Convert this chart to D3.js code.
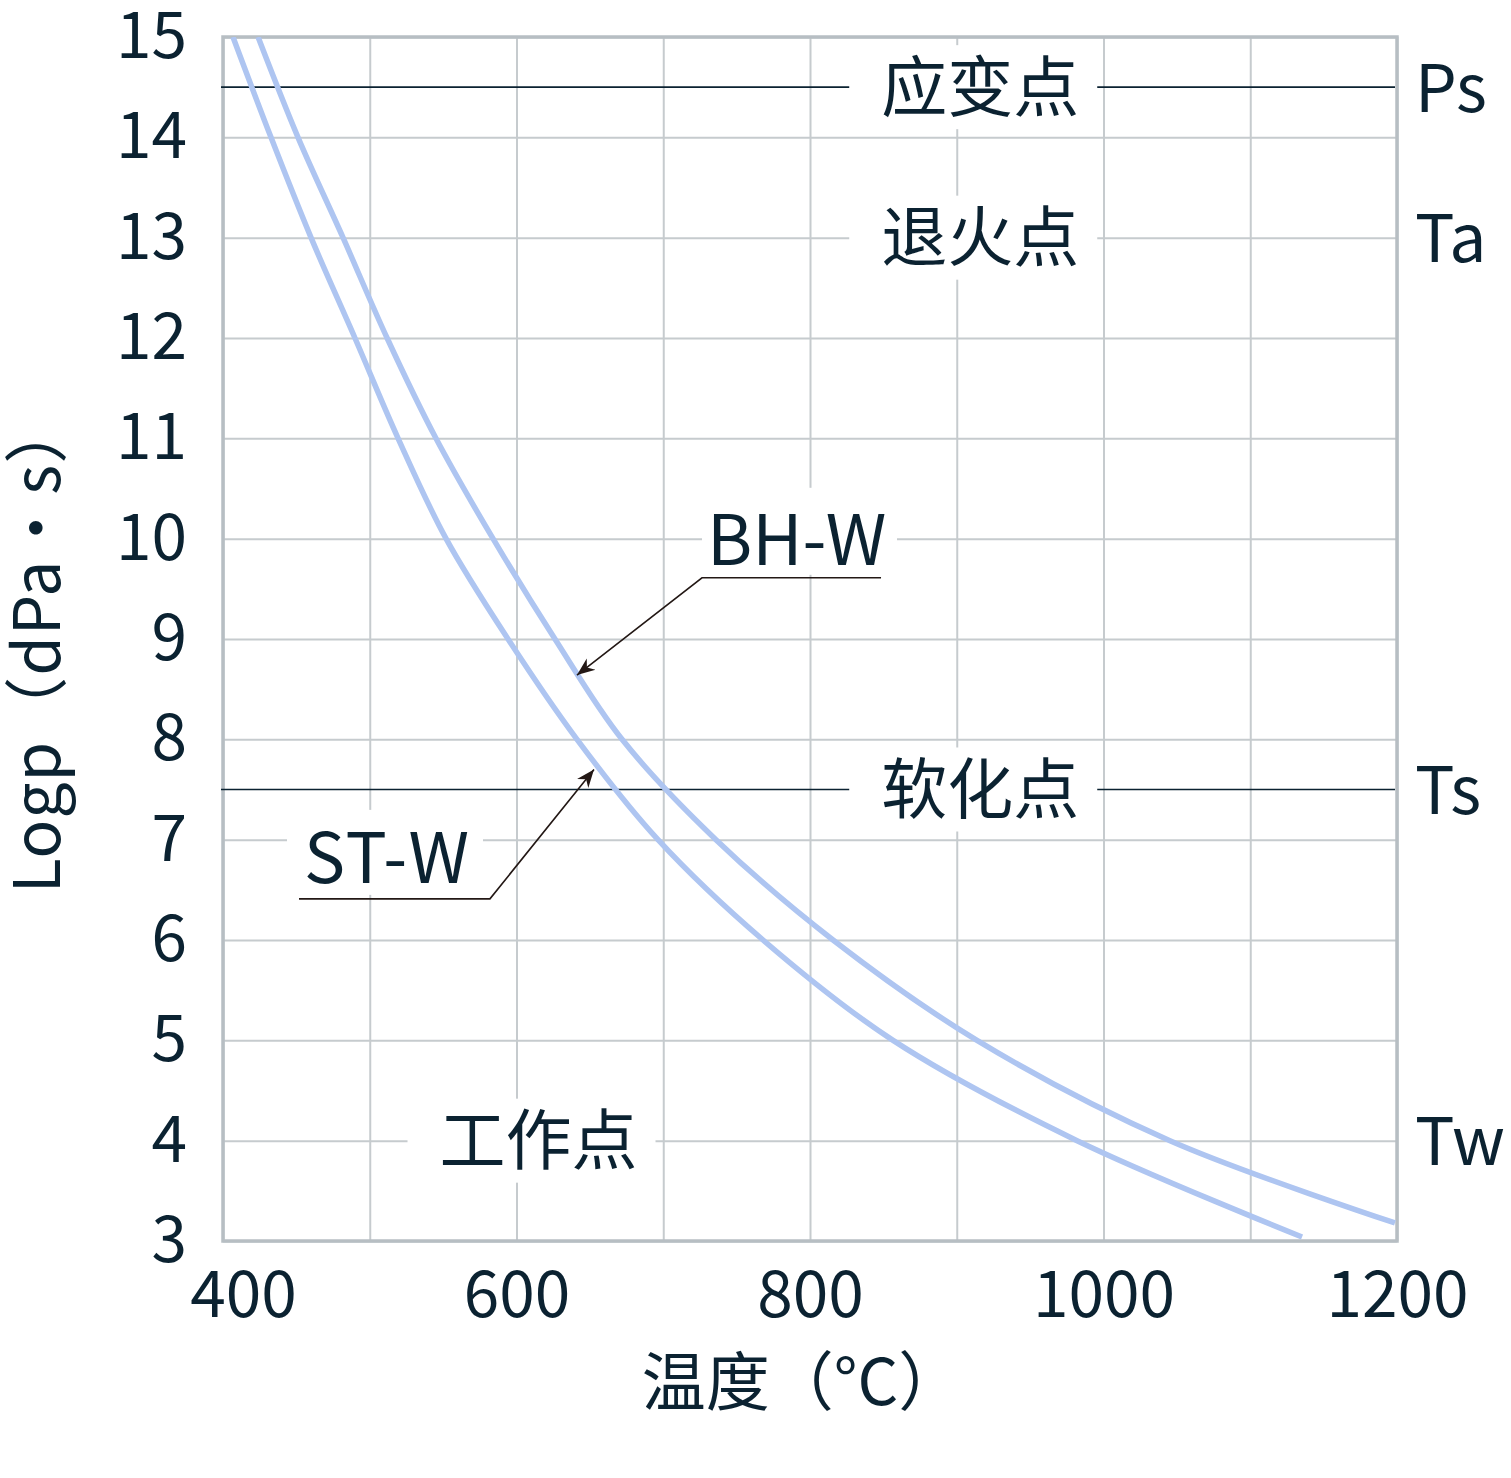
<!DOCTYPE html>
<html>
<head>
<meta charset="utf-8">
<script src="https://cdn.jsdelivr.net/npm/d3@7"></script>
<style>
  body { margin: 0; background: #fff; }
  svg text { font-family: "Noto Sans CJK SC", "Noto Sans", sans-serif; fill: #0b2231; }
</style>
</head>
<body>
<div id="graf"></div>
<script>
// datos
const tempTicks = [400, 600, 800, 1000, 1200];
const logTicks = [3, 4, 5, 6, 7, 8, 9, 10, 11, 12, 13, 14, 15];

const stwTemp = [406.8, 432.7, 460, 489.9, 519.3, 552, 594.2, 641.2, 696.4, 768, 856.6, 982, 1135.3];
const stwLog = [15, 14, 13, 12, 11, 10, 9, 8, 7, 6, 5, 4, 3.04];

const bhwTemp = [423.9, 451.1, 481.8, 511.8, 545.1, 584, 626.2, 671.9, 735.9, 815.7, 913.8, 1045.3, 1198.6];
const bhwLog = [15, 14, 13, 12, 11, 10, 9, 8, 7, 6, 5, 4, 3.18];

// puntos caracteristicos
const puntoNombre = ["应变点", "退火点", "软化点", "工作点"];
const puntoLog = [14.5, 13, 7.5, 4];
const puntoTemp = [916, 916, 916, 615];
const puntoSigla = ["Ps", "Ta", "Ts", "Tw"];
const lineasRef = [14.5, 7.5];

// flechas de las etiquetas [temp, log]
const bhwFlecha = [[641.2, 8.64], [726.4, 9.61], [848.4, 9.61]];
const stwFlecha = [[451.8, 6.41], [581.9, 6.41], [652.8, 7.70]];

const margins = { top: 37, right: 114, bottom: 237, left: 223 };
const totalW = 1511, totalH = 1478;
const w = totalW - margins.left - margins.right;
const h = totalH - margins.top - margins.bottom;

const svg = d3.select("#graf").append("svg")
  .attr("width", totalW)
  .attr("height", totalH);

const g = svg.append("g")
  .attr("transform", `translate(${margins.left}, ${margins.top})`);

const x = d3.scaleLinear().domain([400, 1200]).range([0, w]);
const y = d3.scaleLinear().domain([3, 15]).range([h, 0]);

// rejilla
const gridColor = "#c6cbce";
g.append("g")
  .attr("transform", `translate(0,${h})`)
  .call(d3.axisBottom(x).tickValues(d3.range(400, 1201, 100)).tickSize(-h).tickFormat(""))
  .call(a => a.select(".domain").remove())
  .call(a => a.selectAll("line").attr("stroke", gridColor).attr("stroke-width", 2));

g.append("g")
  .call(d3.axisLeft(y).tickValues(logTicks).tickSize(-w).tickFormat(""))
  .call(a => a.select(".domain").remove())
  .call(a => a.selectAll("line").attr("stroke", gridColor).attr("stroke-width", 2));

// borde
g.append("rect")
  .attr("width", w).attr("height", h)
  .attr("fill", "none")
  .attr("stroke", "#b7bec3")
  .attr("stroke-width", 3.5);

// lineas de referencia
g.selectAll(".ref").data(lineasRef).enter().append("line")
  .attr("x1", -2).attr("x2", w - 2)
  .attr("y1", d => y(d)).attr("y2", d => y(d))
  .attr("stroke", "#0b2231")
  .attr("stroke-width", 1.6);

// cajas blancas detras de los textos
g.selectAll(".caja").data(puntoNombre).enter().append("rect")
  .attr("x", (d, i) => x(puntoTemp[i]) - 131)
  .attr("y", (d, i) => y(puntoLog[i]) - 42)
  .attr("width", 248).attr("height", 84)
  .attr("fill", "#fff");

const bx = x(bhwFlecha[1][0]), by = y(bhwFlecha[1][1]);
g.append("rect").attr("x", bx).attr("y", by - 90).attr("width", 195).attr("height", 87).attr("fill", "#fff");
const sx = x(stwFlecha[0][0]), sy = y(stwFlecha[0][1]);
g.append("rect").attr("x", sx - 12).attr("y", sy - 89).attr("width", 196).attr("height", 85).attr("fill", "#fff");

// curvas
g.append("clipPath").attr("id", "clip").append("rect").attr("width", w).attr("height", h);

const linea = d3.line()
  .x(d => x(d[0]))
  .y(d => y(d[1]))
  .curve(d3.curveCatmullRom.alpha(0.5));

const series = [d3.zip(stwTemp, stwLog), d3.zip(bhwTemp, bhwLog)];
g.append("g").attr("clip-path", "url(#clip)")
  .selectAll("path").data(series).enter().append("path")
  .attr("d", linea)
  .attr("fill", "none")
  .attr("stroke", "#aec5f1")
  .attr("stroke-width", 5.5);

// ejes con etiquetas
const xAxis = g.append("g")
  .attr("transform", `translate(0,${h})`)
  .call(d3.axisBottom(x).tickValues(tempTicks).tickSize(0).tickPadding(31).tickFormat(d3.format("d")));
xAxis.select(".domain").remove();
xAxis.selectAll("text").attr("font-size", 64).attr("fill", "#0b2231");
xAxis.selectAll("text").filter(d => d === 400).attr("dx", 20);

const yAxis = g.append("g")
  .call(d3.axisLeft(y).tickValues(logTicks).tickSize(0).tickPadding(36));
yAxis.select(".domain").remove();
yAxis.selectAll("text").attr("font-size", 64).attr("fill", "#0b2231");
svg.selectAll(".tick").attr("font-family", null);

// nombres de los puntos
g.selectAll(".nombre").data(puntoNombre).enter().append("text")
  .attr("x", (d, i) => x(puntoTemp[i]))
  .attr("y", (d, i) => y(puntoLog[i]))
  .attr("dy", "0.36em")
  .attr("text-anchor", "middle")
  .attr("font-size", 66)
  .text(d => d);

g.selectAll(".sigla").data(puntoSigla).enter().append("text")
  .attr("x", w + 18)
  .attr("y", (d, i) => y(puntoLog[i]))
  .attr("dy", "0.37em")
  .attr("font-size", 66)
  .text(d => d);

// flechas
svg.append("defs").append("marker")
  .attr("id", "flecha")
  .attr("viewBox", "0 0 10 10")
  .attr("refX", 10).attr("refY", 5)
  .attr("markerWidth", 18).attr("markerHeight", 18)
  .attr("markerUnits", "userSpaceOnUse")
  .attr("orient", "auto")
  .append("path")
  .attr("d", "M0,1 L10,5 L0,9 L3,5 Z")
  .attr("fill", "#231815");

const polilinea = d3.line().x(d => x(d[0])).y(d => y(d[1]));

g.append("path")
  .attr("d", polilinea([bhwFlecha[2], bhwFlecha[1], bhwFlecha[0]]))
  .attr("fill", "none").attr("stroke", "#231815").attr("stroke-width", 1.6)
  .attr("marker-end", "url(#flecha)");

g.append("path")
  .attr("d", polilinea(stwFlecha))
  .attr("fill", "none").attr("stroke", "#231815").attr("stroke-width", 1.6)
  .attr("marker-end", "url(#flecha)");

g.append("text").attr("x", bx + 5).attr("y", by - 13).attr("font-size", 69).text("BH-W");
g.append("text").attr("x", sx + 5).attr("y", sy - 16).attr("font-size", 69).attr("letter-spacing", 2).text("ST-W");

// titulos de ejes
svg.append("text")
  .attr("text-anchor", "middle")
  .attr("transform", "translate(60,646) rotate(-90)")
  .attr("font-size", 64)
  .attr("letter-spacing", 1)
  .text("Logp（dPa・s）");

svg.append("text")
  .attr("text-anchor", "middle")
  .attr("x", 802).attr("y", 1405)
  .attr("font-size", 64)
  .text("温度（°C）");
</script>
</body>
</html>
